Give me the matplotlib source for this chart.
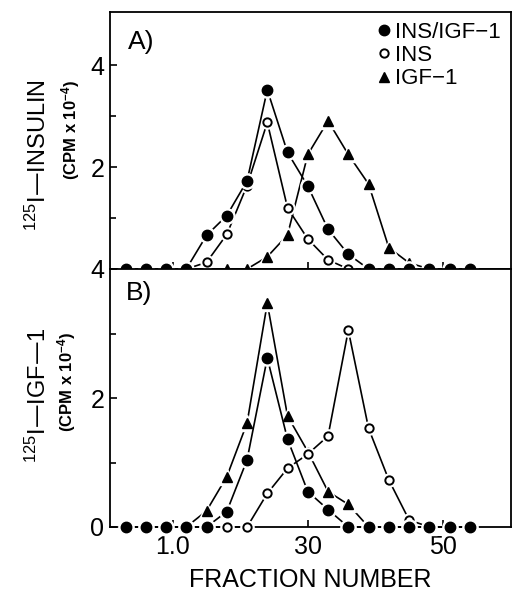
import matplotlib
matplotlib.use("Agg")
import matplotlib.pyplot as plt
from matplotlib.lines import Line2D

plt.rcParams['font.family'] = ['Liberation Sans', 'DejaVu Sans']
plt.rcParams['mathtext.default'] = 'regular'

# ---- data ----
fractions = [3, 6, 9, 12, 15, 18, 21, 24, 27, 30, 33, 36, 39, 42, 45, 48, 51, 54]

a_ins_igf = [0, 0, 0, 0, 0.66, 1.05, 1.73, 3.52, 2.29, 1.63, 0.78, 0.29, 0, 0, 0, 0, 0, 0]
a_ins     = [0, 0, 0, 0, 0.13, 0.68, 1.64, 2.88, 1.20, 0.59, 0.18, 0, 0, 0, 0, 0, 0, 0]
a_igf     = [0, 0, 0, 0, 0, 0, 0, 0.24, 0.67, 2.25, 2.91, 2.25, 1.67, 0.42, 0.12, 0, 0, 0]

b_ins_igf = [0, 0, 0, 0, 0, 0.24, 1.04, 2.62, 1.36, 0.55, 0.27, 0, 0, 0, 0, 0, 0, 0]
b_ins     = [0, 0, 0, 0, 0, 0, 0, 0.52, 0.91, 1.13, 1.41, 3.05, 1.53, 0.73, 0.11, 0, 0, 0]
b_igf     = [0, 0, 0, 0, 0.25, 0.78, 1.61, 3.47, 1.72, 1.17, 0.55, 0.35, 0, 0, 0, 0, 0, 0]

series_labels = ["INS/IGF\u22121", "INS", "IGF\u22121"]
x_ticks = [10, 30, 50]
x_ticklabels = ["1.0", "30", "50"]
x_label = "FRACTION NUMBER"
panel_labels = ["A)", "B)"]
ylabels_main = ["$^{125}$I\u2014INSULIN", "$^{125}$I\u2014IGF\u20141"]
ylabel_sub = "(CPM x 10$^{-4}$)"

# styles
styles = {
    "INS/IGF": dict(marker='o', ms=7.5, mfc='black', mec='black', mew=1.0),
    "INS": dict(marker='o', ms=6.0, mfc='white', mec='black', mew=1.4),
    "IGF": dict(marker='^', ms=7.5, mfc='black', mec='black', mew=1.0),
}

fig = plt.figure(figsize=(5.21, 5.92), dpi=100)
W, H = 521, 592
left, right = 110 / W, 511 / W
axA = fig.add_axes([left, 1 - 269 / H, right - left, (269 - 12) / H])
axB = fig.add_axes([left, 1 - 527 / H, right - left, (527 - 269) / H])


def draw(ax, igf, ins, insigf, z0):
    order = [("IGF", igf), ("INS", ins), ("INS/IGF", insigf)]
    for i, (key, vals) in enumerate(order):
        z = z0 + i * 1.0
        st = styles[key]
        ax.plot(fractions, vals, color='black', lw=1.2, zorder=z, clip_on=False)
        ax.plot(fractions, vals, linestyle='none', marker=st['marker'],
                ms=st['ms'] + 3.5, mfc='white', mec='white', zorder=z + 0.1,
                clip_on=False)
        ax.plot(fractions, vals, linestyle='none', zorder=z + 0.2,
                clip_on=False, **st)


draw(axA, a_igf, a_ins, a_ins_igf, 2)
draw(axB, b_igf, b_ins, b_ins_igf, 2)

for ax in (axA, axB):
    ax.set_xlim(0.7, 60.1)
    ax.set_xticks(x_ticks)
    ax.tick_params(axis='both', which='both', direction='in', width=1.2)
    ax.tick_params(axis='both', which='major', length=5, labelsize=18, pad=4)
    ax.tick_params(axis='y', which='minor', length=4)
    for s in ax.spines.values():
        s.set_linewidth(1.3)

axA.set_ylim(0, 5.05)
axA.set_yticks([2, 4])
axA.set_yticklabels(["2", "4"])
axA.set_yticks([1, 3], minor=True)
axA.set_xticklabels([])

axB.set_ylim(0, 4.0)
axB.set_yticks([0, 2, 4])
axB.set_yticklabels(["0", "2", "4"])
axB.set_yticks([1, 3], minor=True)
axB.tick_params(axis='x', which='major', pad=6)
axB.set_xticklabels(x_ticklabels)
axB.set_xlabel(x_label, fontsize=18, labelpad=6)

axA.text(0.045, 0.93, panel_labels[0], transform=axA.transAxes, fontsize=19,
         ha='left', va='top')
axB.text(0.04, 0.955, panel_labels[1], transform=axB.transAxes, fontsize=19,
         ha='left', va='top')

# legend
handles = [
    Line2D([], [], linestyle='none', **styles["INS/IGF"]),
    Line2D([], [], linestyle='none', **styles["INS"]),
    Line2D([], [], linestyle='none', **styles["IGF"]),
]
axA.legend(handles, series_labels, loc='upper right', frameon=False,
           fontsize=16, handlelength=0.6, handletextpad=0.2,
           labelspacing=0.1, borderaxespad=0.05,
           bbox_to_anchor=(1.0, 1.0))

# y labels
fig.text(38 / W, 1 - 155 / H, ylabels_main[0], rotation=90, fontsize=17,
         ha='center', va='center')
fig.text(71 / W, 1 - 130 / H, ylabel_sub, rotation=90, fontsize=12,
         fontweight='bold', ha='center', va='center')
fig.text(38 / W, 1 - 395 / H, ylabels_main[1], rotation=90, fontsize=17,
         ha='center', va='center')
fig.text(67 / W, 1 - 382 / H, ylabel_sub, rotation=90, fontsize=12,
         fontweight='bold', ha='center', va='center')

fig.savefig("out.png", dpi=100)
